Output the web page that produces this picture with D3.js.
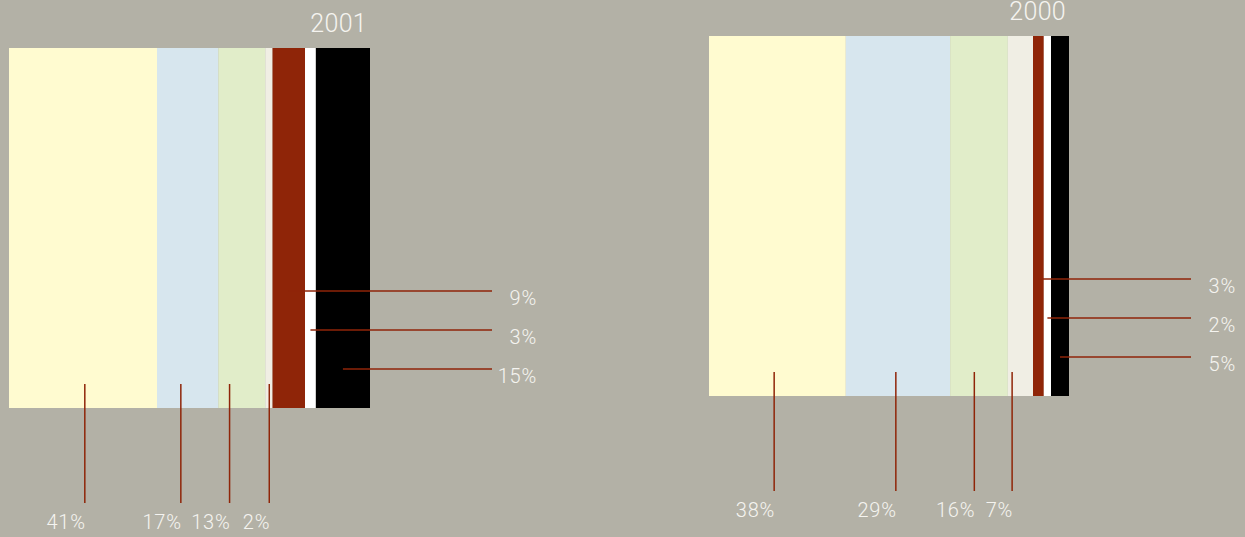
<!DOCTYPE html>
<html>
<head>
<meta charset="utf-8">
<script src="https://cdn.jsdelivr.net/npm/d3@7"></script>
<style>
  html, body { margin: 0; padding: 0; background: #b3b1a6; }
  svg { display: block; }
  text { font-family: Roboto, "Open Sans", sans-serif; fill: #f5f4f0; }
  .title { font-size: 25px; font-weight: 300; letter-spacing: 0.3px; }
  .label { font-size: 20px; font-weight: 300; letter-spacing: 0.8px; }
  .leader { stroke: #8f2508; stroke-width: 1.5; fill: none; }
</style>
</head>
<body>
<div id="chart"></div>
<script>
// shares, in percent, left to right
const categories = ['a', 'b', 'c', 'd', 'e', 'f', 'g'];
const colors = ['#fffbd0', '#d7e6ee', '#e1edc9', '#f0eee4', '#8f2508', '#ffffff', '#000000'];
const shares2001 = [41, 17, 13, 2, 9, 3, 15];
const shares2000 = [38, 29, 16, 7, 3, 2, 5];
// where the lower labels drop from, on the same percent axis
const drop2001 = [21, 47.6, 61.1, 72.1];
const drop2000 = [18.1, 51.9, 73.7, 84.2];

const W = 1245, H = 537;
const svg = d3.select('#chart').append('svg').attr('width', W).attr('height', H);

drawBlock({ year: '2001', shares: shares2001, drops: drop2001, left: 9, top: 48, width: 361, height: 360 });
drawBlock({ year: '2000', shares: shares2000, drops: drop2000, left: 709, top: 36, width: 360, height: 360 });

function drawBlock({ year, shares, drops, left, top, width, height }) {
  const x = d3.scaleLinear().domain([0, d3.sum(shares)]).range([0, width]);
  const g = svg.append('g').attr('transform', `translate(${left},${top})`);

  let acc = 0;
  const segs = shares.map((v, i) => {
    const s = { key: categories[i], value: v, start: acc, end: acc + v, color: colors[i] };
    acc += v;
    return s;
  });

  g.selectAll('rect.seg')
    .data(segs)
    .join('rect')
    .attr('class', 'seg')
    .attr('x', d => x(d.start))
    .attr('y', 0)
    .attr('width', d => x(d.end) - x(d.start))
    .attr('height', height)
    .attr('fill', d => d.color);

  g.append('text')
    .attr('class', 'title')
    .attr('text-anchor', 'end')
    .attr('x', width - 3)
    .attr('y', -16)
    .text(year);

  // lower labels for the first four parts
  const lower = segs.slice(0, 4).map((d, i) => ({ ...d, at: drops[i] }));
  g.selectAll('line.drop')
    .data(lower)
    .join('line')
    .attr('class', 'leader drop')
    .attr('x1', d => x(d.at)).attr('x2', d => x(d.at))
    .attr('y1', height - 24).attr('y2', height + 95);

  g.selectAll('text.low')
    .data(lower)
    .join('text')
    .attr('class', 'label low')
    .attr('text-anchor', 'end')
    .attr('x', d => x(d.at) + 1)
    .attr('y', height + 121)
    .text(d => `${d.value}%`);

  // side labels for the last three parts
  const side = segs.slice(4);
  const rowY = i => height - 39 * (side.length - i);
  g.selectAll('line.side')
    .data(side)
    .join('line')
    .attr('class', 'leader side')
    .attr('x1', d => x((d.start + d.end) / 2))
    .attr('x2', width + 122)
    .attr('y1', (d, i) => rowY(i))
    .attr('y2', (d, i) => rowY(i));

  g.selectAll('text.side')
    .data(side)
    .join('text')
    .attr('class', 'label side')
    .attr('text-anchor', 'end')
    .attr('x', width + 167)
    .attr('y', (d, i) => rowY(i) + 14)
    .text(d => `${d.value}%`);
}
</script>
</body>
</html>
